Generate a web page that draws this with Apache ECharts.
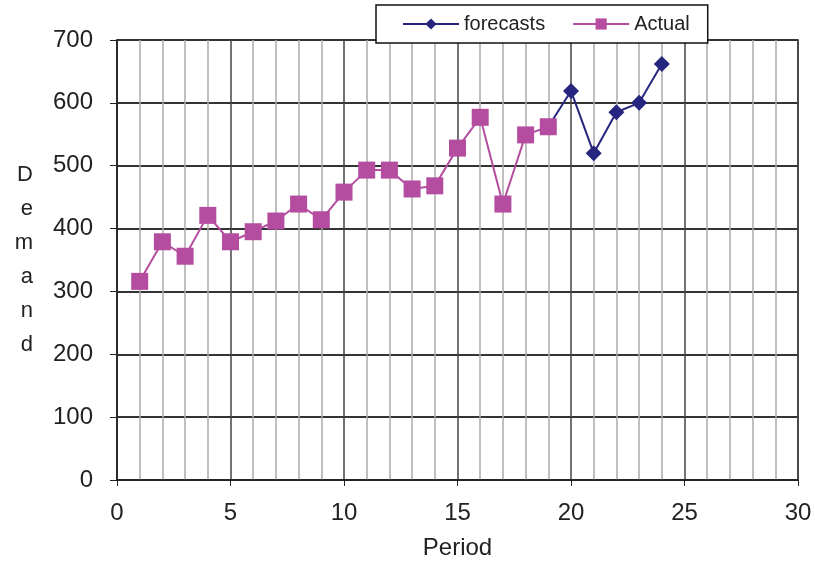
<!DOCTYPE html>
<html><head><meta charset="utf-8">
<script src="https://cdn.jsdelivr.net/npm/echarts@6/dist/echarts.min.js"></script>
<style>html,body{margin:0;padding:0;background:#fff}#c{width:815px;height:561px}</style>
</head><body><div id="c"></div>
<script>
const periods = [1,2,3,4,5,6,7,8,9,10,11,12,13,14,15,16,17,18,19,20,21,22,23,24];
const actual = [316,379,356,421,379,395,412,439,414,458,493,493,463,468,528,577,439,549,562];
const forecastPeriods = [19,20,21,22,23,24];
const forecasts = [562,619,520,585,600,662];

const chart = echarts.init(document.getElementById('c'));
const F = '"Liberation Sans", Arial, sans-serif';
chart.setOption({
  animation:false,
  grid:{left:117,right:17,top:40,bottom:81,show:true,borderColor:'#222',borderWidth:1.5,
        containLabel:false,outerBoundsMode:'none'},
  legend:{
    top:5,left:376,padding:[9,18,9,26],
    borderColor:'#111',borderWidth:1.5,backgroundColor:'#fff',
    itemWidth:56,itemHeight:14,itemGap:27,
    textStyle:{fontFamily:F,fontSize:20,color:'#222'},
    data:['forecasts','Actual']
  },
  xAxis:{
    type:'value',min:0,max:30,interval:5,
    name:'Period',nameLocation:'middle',nameGap:56,
    nameTextStyle:{fontFamily:F,fontSize:24,color:'#222'},
    axisLine:{show:true,onZero:false,lineStyle:{color:'#222',width:1.5}},
    axisTick:{show:true,length:6,inside:false,lineStyle:{color:'#222'}},
    minorTick:{show:false},
    minorSplitLine:{show:true,lineStyle:{color:'#aaa',width:1.5}},
    axisLabel:{fontFamily:F,fontSize:24,color:'#222',margin:21},
    splitLine:{show:true,lineStyle:{color:'#444',width:1.5}}
  },
  yAxis:{
    type:'value',min:0,max:700,interval:100,
    name:'D\ne\nm\na\nn\nd',nameLocation:'middle',nameRotate:0,nameGap:84,
    nameTextStyle:{fontFamily:F,fontSize:22,color:'#222',lineHeight:34,padding:[32,0,0,0]},
    axisLine:{show:true,lineStyle:{color:'#222',width:1.5}},
    axisTick:{show:true,length:7,lineStyle:{color:'#222'}},
    axisLabel:{fontFamily:F,fontSize:24,color:'#222',margin:24},
    splitLine:{show:true,lineStyle:{color:'#333',width:2}}
  },
  series:[
    {name:'forecasts',type:'line',data:forecastPeriods.map((p,i)=>[p,forecasts[i]]),
     symbol:'diamond',symbolSize:16,z:2,
     lineStyle:{color:'#26267e',width:2},itemStyle:{color:'#26267e'}},
    {name:'Actual',type:'line',data:periods.slice(0,actual.length).map((p,i)=>[p,actual[i]]),
     symbol:'rect',symbolSize:17,z:3,
     lineStyle:{color:'#b44d9f',width:2},itemStyle:{color:'#b44d9f'}}
  ]
});
</script></body></html>
